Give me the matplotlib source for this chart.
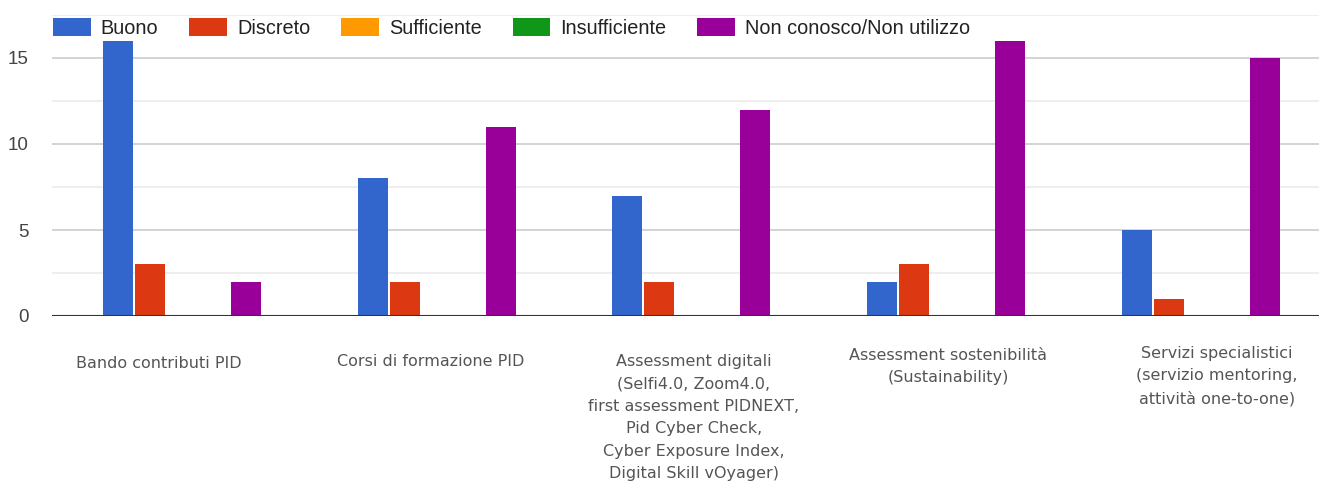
import numpy as np
import matplotlib.pyplot as plt
from matplotlib.patches import Patch
from matplotlib.transforms import blended_transform_factory

## data
categories = ["Bando contributi PID",
              "Corsi di formazione PID",
              "Assessment digitali\n(Selfi4.0, Zoom4.0,\nfirst assessment PIDNEXT,\nPid Cyber Check,\nCyber Exposure Index,\nDigital Skill vOyager)",
              "Assessment sostenibilità\n(Sustainability)",
              "Servizi specialistici\n(servizio mentoring,\nattività one-to-one)"]
series_names = ["Buono", "Discreto", "Sufficiente", "Insufficiente", "Non conosco/Non utilizzo"]
buono = [16, 8, 7, 2, 5]
discreto = [3, 2, 2, 3, 1]
sufficiente = [0, 0, 0, 0, 0]
insufficiente = [0, 0, 0, 0, 0]
non_conosco = [2, 11, 12, 16, 15]
yticks = [0, 5, 10, 15]

colors = ["#3366cc", "#dc3912", "#ff9900", "#109618", "#990099"]
W, H = 1319, 483

fig = plt.figure(figsize=(W / 100, H / 100), dpi=100)
ax = fig.add_axes([52 / W, 1 - 316 / H, 1 - 52 / W, (316 - 15) / H])

x = np.arange(len(categories))
step = 32 / 254.75
width = 30 / 254.75
values = [buono, discreto, sufficiente, insufficiente, non_conosco]
for i, (vals, c) in enumerate(zip(values, colors)):
  ax.bar(x + (i - 2) * step, vals, width=width, color=c, linewidth=0, zorder=3)

ax.set_xlim(-0.510, 4.463)
ax.set_ylim(0, 17.5)
ax.set_yticks(yticks)
ax.set_yticks([2.5, 7.5, 12.5, 17.5], minor=True)
ax.grid(axis="y", which="major", color="#cccccc", linewidth=1.2, zorder=0)
ax.grid(axis="y", which="minor", color="#ebebeb", linewidth=1.2, zorder=0)
ax.axhline(0, color="#333333", linewidth=1.5, zorder=4)
for s in ax.spines.values():
  s.set_visible(False)
ax.set_xticks([])
ax.tick_params(axis="y", which="both", length=0, pad=17, labelsize=13.5, labelcolor="#444444")
for lbl in ax.get_yticklabels():
  lbl.set_fontfamily("Liberation Sans")

## category labels below the axis
trans = blended_transform_factory(ax.transData, fig.transFigure)
label_dx = [-0.09, -0.024, 0.01, 0.007, 0.063]
label_top = [356, 354, 354, 348, 346]
for xi, name, dx, top in zip(x, categories, label_dx, label_top):
  ax.text(xi + dx, 1 - top / H, name, transform=trans, ha="center", va="top",
          fontsize=11.5, color="#555555", linespacing=1.62, family="DejaVu Sans")

## legend along the top
handles = [Patch(facecolor=c, edgecolor="none") for c in colors]
leg = fig.legend(handles, series_names, loc="upper left", bbox_to_anchor=(53 / W, 1 - 18 / H),
                 ncol=5, frameon=False, handlelength=1.9, handleheight=1.0,
                 handletextpad=0.5, columnspacing=1.56, borderaxespad=0, borderpad=0,
                 prop={"family": "Liberation Sans", "size": 14.3})
for t in leg.get_texts():
  t.set_color("#222222")

fig.savefig("out.png", dpi=100)
